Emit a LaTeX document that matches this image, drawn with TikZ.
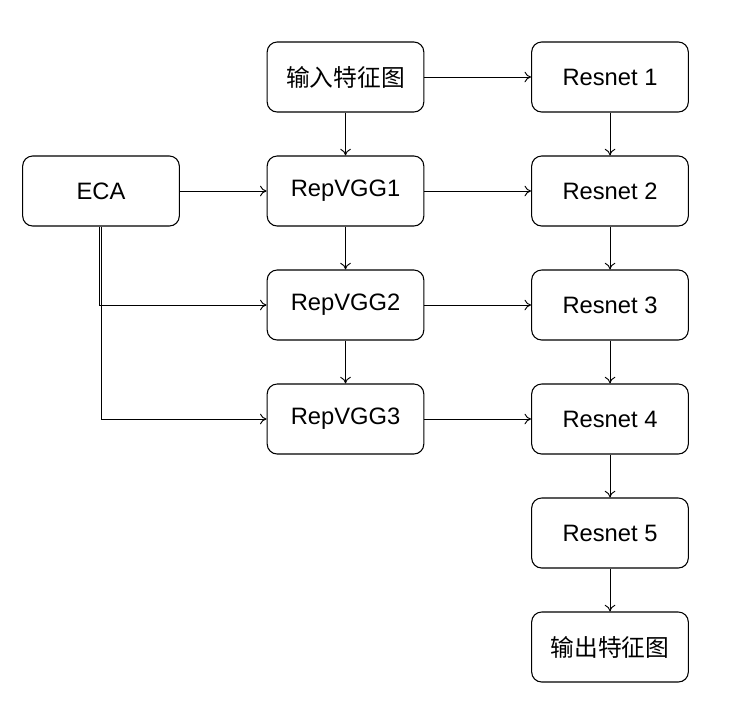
\documentclass[tikz,border=0pt]{standalone}
\usepackage{fontspec}
\setmainfont{Liberation Sans}
\newfontfamily\cjk{Noto Sans CJK SC}
\usetikzlibrary{arrows.meta}

\tikzset{
  blk/.style={draw, rounded corners=7.5pt, line width=0.8pt, minimum width=117.5pt,
    minimum height=52.5pt, inner sep=0pt, font=\fontsize{17.8}{20}\selectfont},
  link/.style={line width=0.7pt, -{To[length=5pt,width=8pt]}}
}

\begin{document}
\begin{tikzpicture}[x=0.75pt, y=-0.75pt]
  \useasboundingbox (0,0) rectangle (742,708);

  \node[blk] at (345.5,77) (input) {\cjk 输入特征图};
  \node[blk] at (610,77) (res1) {Resnet 1};
  \node[blk] at (101,191) (eca) {ECA};
  \node[blk] at (345.5,191) (rep1) {RepVGG1};
  \node[blk] at (610,191) (res2) {Resnet 2};
  \node[blk] at (345.5,305) (rep2) {RepVGG2};
  \node[blk] at (610,305) (res3) {Resnet 3};
  \node[blk] at (345.5,419) (rep3) {RepVGG3};
  \node[blk] at (610,419) (res4) {Resnet 4};
  \node[blk] at (610,533) (res5) {Resnet 5};
  \node[blk] at (610,647) (output) {\cjk 输出特征图};

  \draw[link] (input) -- (res1);
  \draw[link] (input) -- (rep1);
  \draw[link] (res1) -- (res2);
  \draw[link] (eca) -- (rep1);
  \draw[link] (rep1) -- (res2);
  \draw[link] (rep1) -- (rep2);
  \draw[link] (res2) -- (res3);
  \draw[link] ([xshift=-1]eca.south) |- (rep2.west);
  \draw[link] (rep2) -- (res3);
  \draw[link] (rep2) -- (rep3);
  \draw[link] (res3) -- (res4);
  \draw[link] (eca.south) |- (rep3.west);
  \draw[link] (rep3) -- (res4);
  \draw[link] (res4) -- (res5);
  \draw[link] (res5) -- (output);
\end{tikzpicture}
\end{document}
